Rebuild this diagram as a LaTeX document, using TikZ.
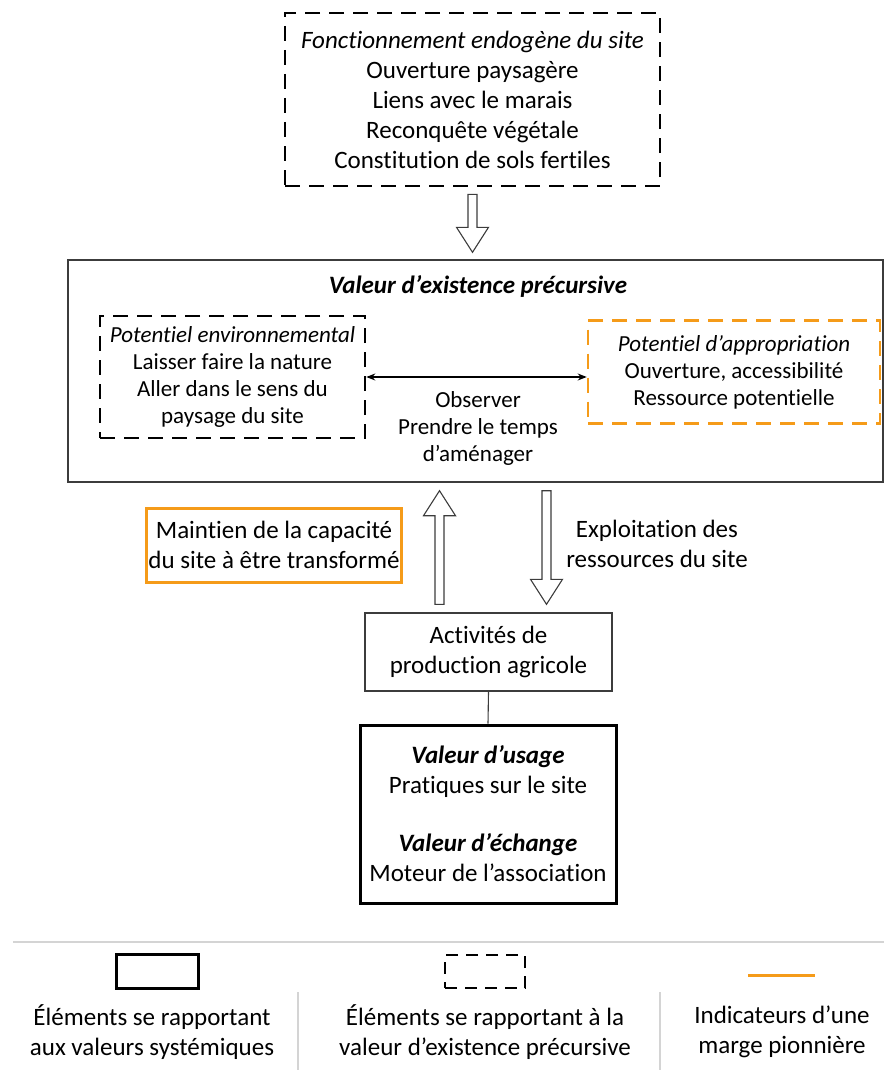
\documentclass[tikz,border=0pt]{standalone}
\usepackage{fontspec}
\setmainfont{Carlito}[Ligatures={TeX,NoCommon}]
\usetikzlibrary{arrows.meta,calc}

\definecolor{pionorange}{RGB}{245,155,25}
\definecolor{boxgray}{RGB}{60,60,60}
\definecolor{rulegray}{RGB}{212,212,212}

\begin{document}
\begin{tikzpicture}[
    x=1pt, y=-1pt,
    % Text sizes
    bigtext/.style={font=\fontsize{25}{30}\selectfont, align=center},
    smalltext/.style={font=\fontsize{23}{27}\selectfont, align=center},
    % Boxes (solid, dashed, orange)
    plainbox/.style={draw=boxgray, line width=1.4pt, inner sep=0pt},
    thickbox/.style={draw=black, line width=3pt, inner sep=0pt},
    dashbox/.style={draw=black, line width=2.6pt, dash pattern=on 15pt off 9pt, inner sep=0pt},
    orangedash/.style={dashbox, draw=pionorange},
    orangebox/.style={draw=pionorange, line width=3pt, inner sep=0pt},
    % Hollow block arrow from start to tip (vertical only)
    hollow/.style={draw=boxgray, line width=1.1pt, fill=white,
        to path={let \p1=(\tikztostart), \p2=(\tikztotarget), \n1={sign(\y2-\y1)} in
            (\x1-4.5pt,\y1) -- (\x1-4.5pt,\y2-\n1*25pt) -- (\x1-16pt,\y2-\n1*25pt)
            -- (\x1,\y2) -- (\x1+16pt,\y2-\n1*25pt) -- (\x1+4.5pt,\y2-\n1*25pt)
            -- (\x1+4.5pt,\y1) -- cycle}}
]
    \useasboundingbox (0,0) rectangle (884,1070);

    % --- Top: endogenous functioning ---
    \node[dashbox, bigtext, minimum width=375pt, minimum height=173pt] (fonct) at (472.5,99.5)
        {\textit{Fonctionnement endogène du site}\\Ouverture paysagère\\
         Liens avec le marais\\Reconquête végétale\\Constitution de sols fertiles};

    % --- Big frame: precursive existence value ---
    \node[plainbox, minimum width=815pt, minimum height=222pt] (exist) at (475.5,371) {};
    \node[bigtext] (existtitle) at (478,286) {\textbf{\textit{Valeur d’existence précursive}}};

    \node[dashbox, smalltext, minimum width=265pt, minimum height=122pt] (env) at (232.5,377)
        {\textit{Potentiel environnemental}\\Laisser faire la nature\\Aller dans le sens du\\paysage du site};
    \node[orangedash, smalltext, minimum width=292pt, minimum height=103pt] (appro) at (734,372)
        {\textit{Potentiel d’appropriation}\\Ouverture, accessibilité\\Ressource potentielle};
    \node[smalltext] (observ) at (478,428) {Observer\\Prendre le temps\\d’aménager};

    \draw[{Stealth[length=9pt,width=7pt]}-{Stealth[length=9pt,width=7pt]}, line width=1.2pt]
        (env.east) -- (env.east -| appro.west);

    \draw[hollow] ([yshift=-7pt]fonct.south) to ([yshift=7pt]exist.north);

    % --- Middle: exchanges with farming ---
    \node[orangebox, bigtext, minimum width=255pt, minimum height=74pt] (maintien) at (274,545)
        {Maintien de la capacité\\du site à être transformé};
    \node[bigtext] (exploit) at (657,544) {Exploitation des\\ressources du site};

    \node[plainbox, bigtext, minimum width=247pt, minimum height=78pt] (act) at (488.5,652)
        {Activités de\\production agricole};

    \coordinate (upfoot) at ([xshift=-49pt,yshift=8pt]act.north);
    \coordinate (downfoot) at ([xshift=58pt,yshift=8pt]act.north);
    \draw[hollow] (upfoot) to ([yshift=-8pt]upfoot |- exist.south);
    \draw[hollow] ([yshift=-8pt]downfoot |- exist.south) to (downfoot);

    % --- Bottom: systemic values ---
    \node[thickbox, bigtext, minimum width=256pt, minimum height=178pt] (valeurs) at (488,814)
        {\textbf{\textit{Valeur d’usage}}\\Pratiques sur le site\\[28pt]
         \textbf{\textit{Valeur d’échange}}\\Moteur de l’association};
    \draw[line width=1.1pt, boxgray] (act.south) -- (valeurs.north);

    % --- Legend ---
    \draw[rulegray, line width=1.5pt] (13,942) -- (884,942);
    \draw[rulegray, line width=1.2pt] (298,992) -- (298,1070);
    \draw[rulegray, line width=1.2pt] (660,992) -- (660,1070);

    \node[thickbox, minimum width=82pt, minimum height=34pt] (legsys) at (157,971) {};
    \node[dashbox, dash pattern=on 12pt off 8pt, minimum width=80pt, minimum height=33pt] (legprec) at (485,971.5) {};
    \coordinate (legpionA) at (748,975);
    \coordinate (legpionB) at (815,975);
    \draw[pionorange, line width=3pt] (legpionA) -- (legpionB);

    \node[bigtext] (legsystext) at (152,1032) {Éléments se rapportant\\aux valeurs systémiques};
    \node[bigtext] (legprectext) at (485,1032) {Éléments se rapportant à la\\valeur d’existence précursive};
    \node[bigtext] (legpiontext) at (782,1032) {Indicateurs d’une\\marge pionnière};

\end{tikzpicture}
\end{document}
